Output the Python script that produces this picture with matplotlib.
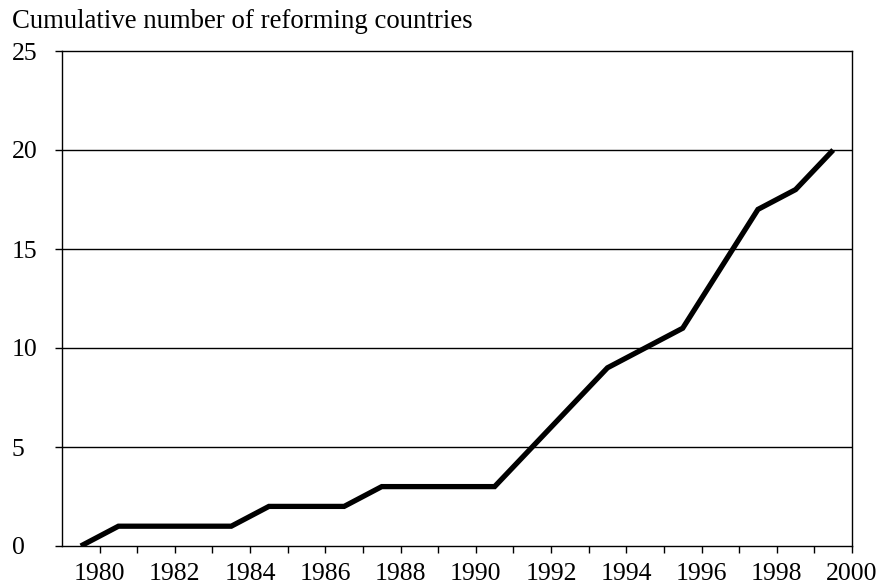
import matplotlib
matplotlib.use("Agg")
import matplotlib.pyplot as plt

years = [1979.5, 1980.5, 1981.5, 1982.5, 1983.5, 1984.5, 1985.5, 1986.5, 1987.5,
         1988.5, 1989.5, 1990.5, 1991.5, 1992.5, 1993.5, 1994.5, 1995.5, 1996.5,
         1997.5, 1998.5, 1999.5]
cumulative = [0, 1, 1, 1, 1, 2, 2, 2, 3, 3, 3, 3, 5, 7, 9, 10, 11, 14, 17, 18, 20]
xtick_labels = list(range(1980, 2001, 2))
yticks = [0, 5, 10, 15, 20, 25]

plt.rcParams['font.family'] = ['Liberation Serif', 'DejaVu Serif']
fig = plt.figure(figsize=(8.77, 5.86), dpi=100)
ax = fig.add_axes([62/877, 1-546/586, (852-62)/877, (546-51)/586])

ax.plot(years, cumulative, color='black', linewidth=3.8, solid_joinstyle='miter',
        solid_capstyle='butt', zorder=3)

ax.set_xlim(1979, 2000)
ax.set_ylim(0, 25)
ax.set_xticks(range(1980, 2001))
ax.set_xticklabels([str(y) if y in xtick_labels else '' for y in range(1980, 2001)])
ax.set_yticks(yticks)
ax.set_yticklabels([str(v) for v in yticks])
for lbl in ax.get_yticklabels():
    lbl.set_horizontalalignment('left')
ax.tick_params(axis='x', direction='out', length=5, width=1, pad=7, labelsize=18.5)
ax.tick_params(axis='y', direction='out', length=5, width=1, pad=31, labelsize=18.5)
for v in [5, 10, 15, 20]:
    ax.axhline(v, color='black', linewidth=1.0, zorder=1)
for s in ax.spines.values():
    s.set_linewidth(1.0)

fig.text(12/877, 1-21/586, 'Cumulative number of reforming countries', fontsize=19.3,
         ha='left', va='center')

fig.savefig('out.png', dpi=100)
